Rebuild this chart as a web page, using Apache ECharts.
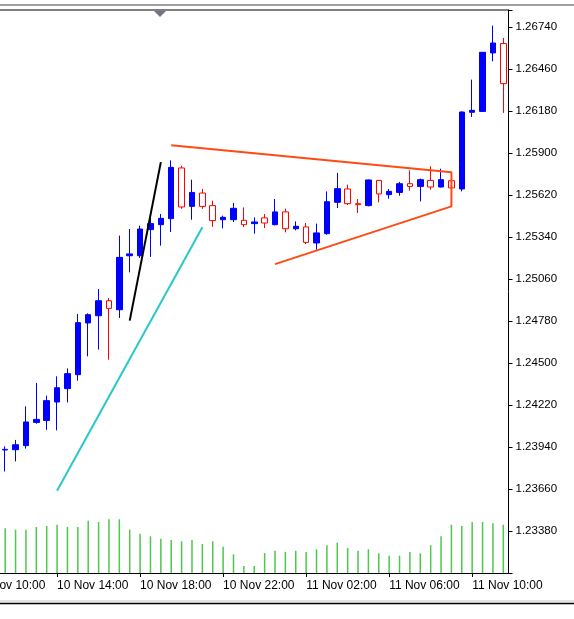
<!DOCTYPE html>
<html>
<head>
<meta charset="utf-8">
<script src="https://cdn.jsdelivr.net/npm/echarts@6/dist/echarts.min.js"></script>
<style>
	html, body { margin: 0; padding: 0; background: #fff; }
	#container { width: 574px; height: 619px; }
</style>
</head>
<body>
<div id="container"></div>
<script>
// 30 minute bars, 10 Nov 11:30 .. 11 Nov 11:30
var times = [
	'10 Nov 11:30','10 Nov 12:00','10 Nov 12:30','10 Nov 13:00','10 Nov 13:30',
	'10 Nov 14:00','10 Nov 14:30','10 Nov 15:00','10 Nov 15:30','10 Nov 16:00','10 Nov 16:30','10 Nov 17:00','10 Nov 17:30',
	'10 Nov 18:00','10 Nov 18:30','10 Nov 19:00','10 Nov 19:30','10 Nov 20:00','10 Nov 20:30','10 Nov 21:00','10 Nov 21:30',
	'10 Nov 22:00','10 Nov 22:30','10 Nov 23:00','10 Nov 23:30','11 Nov 00:00','11 Nov 00:30','11 Nov 01:00','11 Nov 01:30',
	'11 Nov 02:00','11 Nov 02:30','11 Nov 03:00','11 Nov 03:30','11 Nov 04:00','11 Nov 04:30','11 Nov 05:00','11 Nov 05:30',
	'11 Nov 06:00','11 Nov 06:30','11 Nov 07:00','11 Nov 07:30','11 Nov 08:00','11 Nov 08:30','11 Nov 09:00','11 Nov 09:30',
	'11 Nov 10:00','11 Nov 10:30','11 Nov 11:00','11 Nov 11:30'
];
// the label of the bar slot just left of the window (3 bars before the first one)
var offLeftTime = '10 Nov 10:00';
var offLeftBars = 3;

var opens  = [1.23920,1.23922,1.23949,1.24104,1.24117,1.24240,1.24329,1.24422,1.24767,1.24815,
	1.24915,1.24855,1.25215,1.25215,1.25389,1.25422,1.25462,1.25800,1.25544,1.25633,
	1.25549,1.25455,1.25455,1.25451,1.25429,1.25467,1.25422,1.25507,1.25395,1.25407,
	1.25300,1.25362,1.25571,1.25660,1.25562,1.25549,1.25717,1.25622,1.25637,1.25695,
	1.25677,1.25717,1.25673,1.25715,1.25660,1.26171,1.26177,1.26567,1.26629];
var closes = [1.23924,1.23955,1.24107,1.24124,1.24249,1.24335,1.24429,1.24769,1.24822,1.24915,
	1.24864,1.25204,1.25227,1.25393,1.25429,1.25464,1.25804,1.25540,1.25637,1.25544,
	1.25449,1.25471,1.25531,1.25422,1.25440,1.25433,1.25507,1.25395,1.25411,1.25304,
	1.25367,1.25575,1.25662,1.25562,1.25555,1.25720,1.25627,1.25644,1.25695,1.25677,
	1.25722,1.25673,1.25722,1.25667,1.26173,1.26184,1.26571,1.26633,1.26362];
var lows   = [1.23777,1.23844,1.23929,1.24095,1.24055,1.24051,1.24237,1.24382,1.24544,1.24589,
	1.24522,1.24800,1.25104,1.25200,1.25207,1.25282,1.25373,1.25527,1.25455,1.25527,
	1.25407,1.25397,1.25440,1.25407,1.25362,1.25400,1.25417,1.25371,1.25384,1.25293,
	1.25255,1.25355,1.25533,1.25553,1.25500,1.25544,1.25571,1.25595,1.25615,1.25649,
	1.25577,1.25655,1.25670,1.25660,1.25644,1.26140,1.26175,1.26511,1.26167];
var highs  = [1.23944,1.23987,1.24211,1.24367,1.24282,1.24411,1.24464,1.24827,1.24831,1.24993,
	1.24933,1.25349,1.25393,1.25415,1.25489,1.25493,1.25851,1.25815,1.25722,1.25660,
	1.25582,1.25482,1.25567,1.25537,1.25471,1.25493,1.25593,1.25529,1.25444,1.25433,
	1.25429,1.25644,1.25767,1.25689,1.25593,1.25722,1.25720,1.25660,1.25707,1.25784,
	1.25729,1.25811,1.25795,1.25740,1.26177,1.26389,1.26573,1.26749,1.26667];
var volumes = [447,433,433,460,470,483,460,460,523,510,
	537,537,433,393,367,343,330,317,330,290,
	317,263,187,70,70,200,223,210,223,210,
	237,277,303,250,223,237,197,173,173,210,
	197,277,367,483,470,510,510,497,483];

var priceTicks = [1.23380,1.23660,1.23940,1.24220,1.24500,1.24780,1.25060,1.25340,1.25620,1.25900,1.26180,1.26460,1.26740];

// drawn objects, [bar index, price]
var blackLine = [[12, 1.24782], [15, 1.25839]];
var cyanLine = [[5, 1.23649], [19, 1.25405]];
var triangle = [[16, 1.25951], [43, 1.25771], [43, 1.25544], [26, 1.25159]];

var candles = opens.map(function(o, i){
	return [o, closes[i], lows[i], highs[i]];
});

var font = 'Liberation Sans';
// a time label every 4 hours (8 bars), lined up with 10:00 / 14:00 / ...
var every8 = function(idx){ return (idx + offLeftBars) % 8 === 0; };

var option = {
	animation: false,
	backgroundColor: '#fff',
	grid: {
		left: 0,
		right: 65.5,
		top: 10,
		bottom: 46
	},
	xAxis: [{
		type: 'category',
		data: times,
		boundaryGap: true,
		axisLine: { lineStyle: { color: '#000', width: 1 } },
		axisTick: { show: true, alignWithLabel: true, interval: every8, length: 4, lineStyle: { color: '#000' } },
		axisLabel: {
			interval: every8,
			align: 'left',
			margin: 7,
			color: '#000',
			fontFamily: font,
			fontSize: 12
		},
		splitLine: { show: false }
	}],
	yAxis: [{
		type: 'value',
		position: 'right',
		min: 1.2310,
		max: 1.26853,
		interval: 0.0028,
		axisLine: { show: true, lineStyle: { color: '#000', width: 1 } },
		axisTick: { show: true, length: 4, lineStyle: { color: '#000' } },
		axisLabel: {
			margin: 7,
			color: '#000',
			fontFamily: font,
			fontSize: 11.5,
			formatter: function(v){
				for (var j = 0; j < priceTicks.length; j++) {
					if (Math.abs(priceTicks[j] - v) < 0.000005) return priceTicks[j].toFixed(5);
				}
				return '';
			}
		},
		splitLine: { show: false }
	}, {
		type: 'value',
		min: 0,
		max: 5630,
		show: false
	}],
	series: [{
		name: 'volume',
		type: 'bar',
		yAxisIndex: 1,
		data: volumes,
		barWidth: 1.5,
		itemStyle: { color: '#4cc84c' },
		z: 1
	}, {
		name: 'price',
		type: 'candlestick',
		data: candles,
		barWidth: 6,
		itemStyle: {
			color: '#0000ff',
			color0: '#ffffff',
			borderColor: '#0000ff',
			borderColor0: '#ff0000',
			borderWidth: 1
		},
		z: 2
	}, {
		type: 'line',
		data: blackLine,
		showSymbol: false,
		lineStyle: { color: '#000', width: 2 },
		z: 5
	}, {
		type: 'line',
		data: cyanLine,
		showSymbol: false,
		lineStyle: { color: '#28c8c8', width: 2 },
		z: 5
	}, {
		type: 'line',
		data: triangle,
		showSymbol: false,
		lineStyle: { color: '#ff4a14', width: 2 },
		z: 5
	}],
	graphic: [
		{ type: 'line', shape: { x1: 0, y1: 5, x2: 574, y2: 5 }, style: { stroke: '#a0a0a0', lineWidth: 2 } },
		{ type: 'line', shape: { x1: 0, y1: 10, x2: 508.5, y2: 10 }, style: { stroke: '#000', lineWidth: 1 } },
		{ type: 'polygon', shape: { points: [[154, 11], [166, 11], [160, 17]] }, style: { fill: '#6e7682' } },
		{ type: 'line', shape: { x1: 0, y1: 601, x2: 574, y2: 601 }, style: { stroke: '#c8c8c8', lineWidth: 1 } },
		{ type: 'line', shape: { x1: 0, y1: 603.5, x2: 574, y2: 603.5 }, style: { stroke: '#000', lineWidth: 1.5 } }
	]
};

var myChart = echarts.init(document.getElementById('container'));
myChart.setOption(option);

// the 10:00 label belongs to a slot left of the window, so it is only partly seen
var x0 = myChart.convertToPixel({ xAxisIndex: 0 }, 0);
var x1 = myChart.convertToPixel({ xAxisIndex: 0 }, 1);
var axisY = myChart.convertToPixel({ yAxisIndex: 0 }, 1.2310);
option.graphic.push({
	type: 'text',
	x: x0 - offLeftBars * (x1 - x0),
	y: axisY + 7,
	style: {
		text: offLeftTime,
		fill: '#000',
		font: '12px "' + font + '"',
		textAlign: 'left',
		textVerticalAlign: 'top'
	}
});
myChart.setOption({ graphic: option.graphic });
</script>
</body>
</html>
